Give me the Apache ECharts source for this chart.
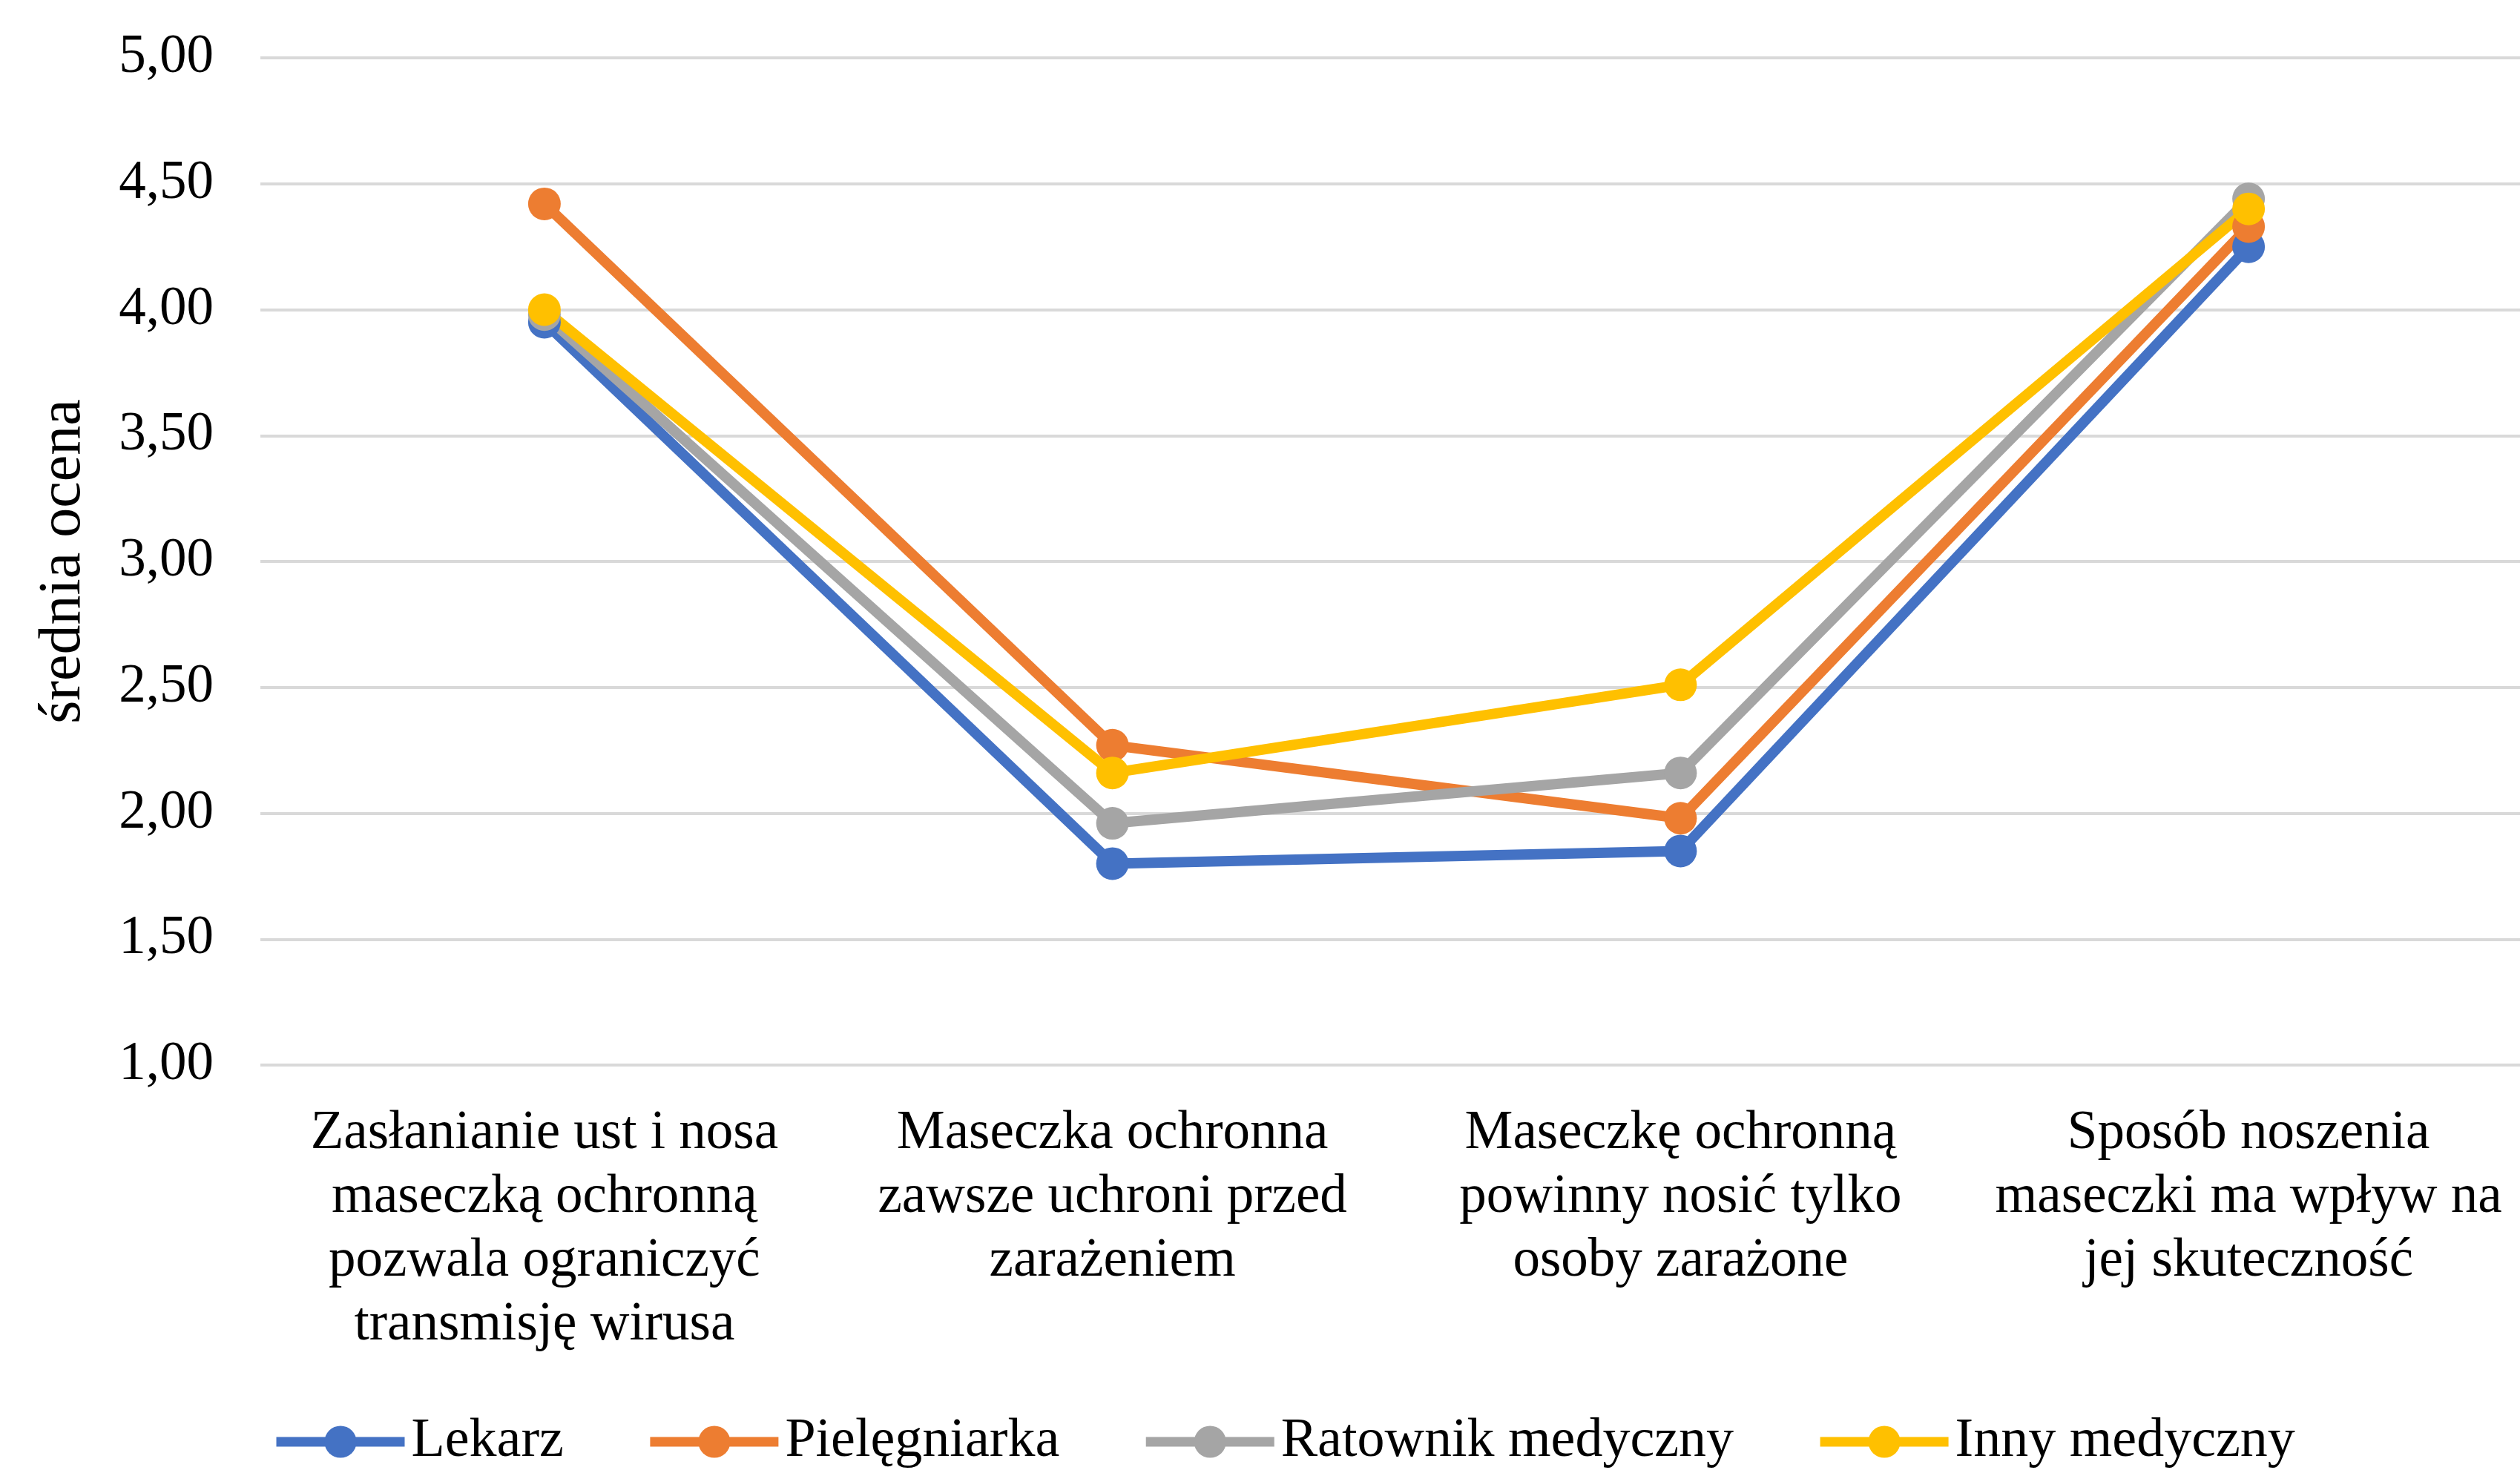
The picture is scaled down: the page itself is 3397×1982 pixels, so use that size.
<!DOCTYPE html>
<html>
<head>
<meta charset="utf-8">
<title>średnia ocena</title>
<script src="https://cdn.jsdelivr.net/npm/echarts@6/dist/echarts.min.js"></script>
<style>
  html, body { margin: 0; padding: 0; background: #fff; overflow: hidden; }
  /* a bit wider than the window: the last category runs past the right edge */
  #chart { width: 3414px; height: 1982px; }
</style>
</head>
<body>
<div id="chart"></div>
<script>
// categories (x axis)
const categories = [
  'Zasłanianie ust i nosa\nmaseczką ochronną\npozwala ograniczyć\ntransmisję wirusa',
  'Maseczka ochronna\nzawsze uchroni przed\nzarażeniem',
  'Maseczkę ochronną\npowinny nosić tylko\nosoby zarażone',
  'Sposób noszenia\nmaseczki ma wpływ na\njej skuteczność'
]
// series values
const lekarz = [3.95, 1.80, 1.85, 4.25]
const pielegniarka = [4.42, 2.27, 1.98, 4.33]
const ratownik = [3.98, 1.96, 2.16, 4.44]
const inny = [4.00, 2.16, 2.51, 4.40]
const seriesNames = ['Lekarz', 'Pielęgniarka', 'Ratownik medyczny', 'Inny medyczny']
const seriesColors = ['#4472C4', '#ED7D31', '#A5A5A5', '#FFC000']

const fontFamily = '"Liberation Serif", "DejaVu Serif", serif'
const textColor = '#000'

const chart = echarts.init(document.getElementById('chart'))

const makeSeries = (name, data, color) => ({
  name: name,
  type: 'line',
  data: data,
  symbol: 'circle',
  symbolSize: 44,
  color: color,
  lineStyle: { width: 14, color: color },
  itemStyle: { color: color },
  animation: false
})

const option = {
  backgroundColor: '#fff',
  textStyle: { fontFamily: fontFamily, color: textColor },
  grid: {
    left: 351,
    top: 78,
    width: 3063,
    height: 1358,
    containLabel: false
  },
  legend: {
    left: 366,
    top: 1907,
    padding: 0,
    itemWidth: 173,
    itemHeight: 54,
    itemGap: 110,
    lineStyle: { width: 13 },
    textStyle: { fontFamily: fontFamily, fontSize: 74, color: textColor, padding: [0, 0, 0, 4] },
    data: seriesNames
  },
  xAxis: {
    type: 'category',
    data: categories,
    boundaryGap: true,
    axisLine: { show: false },
    axisTick: { show: false },
    axisLabel: {
      interval: 0,
      margin: 50,
      fontFamily: fontFamily,
      fontSize: 73,
      lineHeight: 86,
      color: textColor
    }
  },
  yAxis: {
    type: 'value',
    min: 1,
    max: 5,
    interval: 0.5,
    name: 'średnia ocena',
    nameLocation: 'middle',
    nameGap: 225,
    nameTextStyle: { fontFamily: fontFamily, fontSize: 80, color: textColor },
    axisLine: { show: false },
    axisTick: { show: false },
    splitLine: { lineStyle: { color: '#D9D9D9', width: 4 } },
    axisLabel: {
      margin: 63,
      fontFamily: fontFamily,
      fontSize: 73,
      color: textColor,
      formatter: (value) => value.toFixed(2).replace('.', ',')
    }
  },
  series: [
    makeSeries(seriesNames[0], lekarz, seriesColors[0]),
    makeSeries(seriesNames[1], pielegniarka, seriesColors[1]),
    makeSeries(seriesNames[2], ratownik, seriesColors[2]),
    makeSeries(seriesNames[3], inny, seriesColors[3])
  ]
}

chart.setOption(option)
</script>
</body>
</html>
